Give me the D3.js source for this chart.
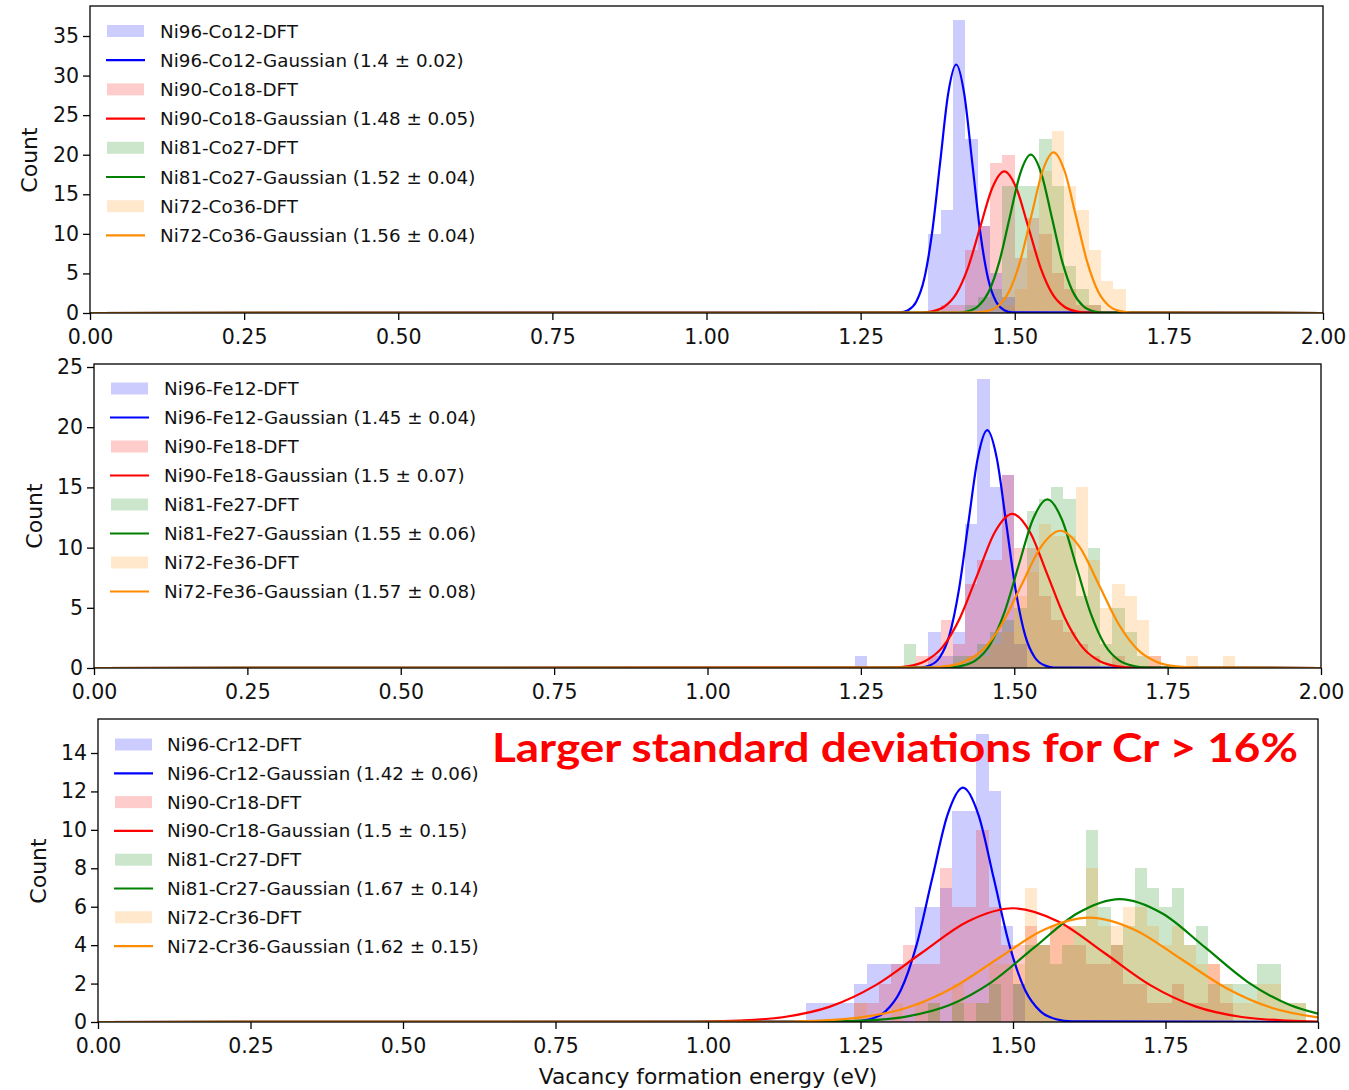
<!DOCTYPE html>
<html><head><meta charset="utf-8">
<script src="https://cdn.jsdelivr.net/npm/d3@7"></script>
<style>
body{margin:0;background:#fff}
svg{display:block}
</style>
</head><body>
<svg id="chart" width="1349" height="1090"></svg>
<script>
// ---------------- DATA ----------------
const binWidth = 0.02;
const xTicks = [0, 0.25, 0.5, 0.75, 1.0, 1.25, 1.5, 1.75, 2.0];
const seriesColors = ['#0000ff', '#ff0000', '#008000', '#ff8c00'];

// Panel 1: Co
const coNames = ['Ni96-Co12', 'Ni90-Co18', 'Ni81-Co27', 'Ni72-Co36'];
const coFitLabels = ['1.4 ± 0.02', '1.48 ± 0.05', '1.52 ± 0.04', '1.56 ± 0.04'];
const coYTicks = [0, 5, 10, 15, 20, 25, 30, 35];
const coBinStart = 1.34;
const coBlue   = [0,10,13,37,22,11,5,2,0,0,0,0,0,0,0,0,0,0];
const coRed    = [0,0,1,1,8,11,19,20,7,12,10,5,3,1,1,0,0,0];
const coGreen  = [0,0,0,0,1,2,3,16,16,16,22,16,6,3,1,0,0,0];
const coOrange = [0,0,0,0,0,0,0,1,3,8,18,23,16,13,8,4,3,0];
const coBlueFit = [[0,0],[1.314,0.07],[1.327,0.35],[1.340,1.38],[1.353,4.25],[1.366,10.2],[1.379,19.04],[1.392,27.71],[1.405,31.4],[1.418,27.71],[1.431,19.04],[1.444,10.2],[1.457,4.25],[1.470,1.38],[1.483,0.35],[1.496,0.07],[2,0]];
const coRedFit = [[0,0],[1.3465,0.04],[1.366,0.2],[1.3855,0.79],[1.405,2.42],[1.4245,5.81],[1.444,10.86],[1.4635,15.8],[1.483,17.9],[1.5025,15.8],[1.522,10.86],[1.5415,5.81],[1.561,2.42],[1.5805,0.79],[1.6,0.2],[1.6195,0.04],[2,0]];
const coGreenFit = [[0,0],[1.407,0.04],[1.424,0.22],[1.441,0.88],[1.458,2.71],[1.475,6.49],[1.492,12.13],[1.509,17.65],[1.526,20.0],[1.543,17.65],[1.56,12.13],[1.577,6.49],[1.594,2.71],[1.611,0.88],[1.628,0.22],[1.645,0.04],[2,0]];
const coOrangeFit = [[0,0],[1.437,0.04],[1.455,0.23],[1.473,0.89],[1.491,2.75],[1.509,6.59],[1.527,12.31],[1.545,17.91],[1.563,20.3],[1.581,17.91],[1.599,12.31],[1.617,6.59],[1.635,2.75],[1.653,0.89],[1.671,0.23],[1.689,0.04],[2,0]];

// Panel 2: Fe
const feNames = ['Ni96-Fe12', 'Ni90-Fe18', 'Ni81-Fe27', 'Ni72-Fe36'];
const feFitLabels = ['1.45 ± 0.04', '1.5 ± 0.07', '1.55 ± 0.06', '1.57 ± 0.08'];
const feYTicks = [0, 5, 10, 15, 20, 25];
const feBinStart = 1.24;
const feBlue   = [1,0,0,0,0,0,3,1,3,12,24,15,16,2,0,0,0,0,0,0,0,0,0,0,0,0,0,0,0,0,0];
const feRed    = [0,0,0,0,0,1,1,4,2,7,9,9,16,10,10,6,4,3,2,1,0,1,0,0,1,0,0,0,0,0,0];
const feGreen  = [0,0,0,0,2,0,0,0,1,1,2,3,4,5,13,14,15,14,6,10,2,5,3,1,0,0,0,0,0,0,0];
const feOrange = [0,0,0,0,0,0,0,0,0,1,1,2,3,6,8,12,11,11,15,9,5,7,6,4,1,0,0,1,0,0,1];
const feBlueFit = [[0,0],[1.3475,0.04],[1.363,0.22],[1.3785,0.87],[1.394,2.67],[1.4095,6.41],[1.425,11.98],[1.4405,17.43],[1.456,19.75],[1.4715,17.43],[1.487,11.98],[1.5025,6.41],[1.518,2.67],[1.5335,0.87],[1.549,0.22],[1.5645,0.04],[2,0]];
const feRedFit = [[0,0],[1.2975,0.03],[1.326,0.14],[1.3545,0.56],[1.383,1.73],[1.4115,4.16],[1.44,7.76],[1.4685,11.3],[1.497,12.8],[1.5255,11.3],[1.554,7.76],[1.5825,4.16],[1.611,1.73],[1.6395,0.56],[1.668,0.14],[1.6965,0.03],[2,0]];
const feGreenFit = [[0,0],[1.3895,0.03],[1.413,0.16],[1.4365,0.61],[1.46,1.89],[1.4835,4.55],[1.507,8.49],[1.5305,12.36],[1.554,14.0],[1.5775,12.36],[1.601,8.49],[1.6245,4.55],[1.648,1.89],[1.6715,0.61],[1.695,0.16],[1.7185,0.03],[2,0]];
const feOrangeFit = [[0,0],[1.3545,0.03],[1.386,0.13],[1.4175,0.5],[1.449,1.54],[1.4805,3.7],[1.512,6.91],[1.5435,10.06],[1.575,11.4],[1.6065,10.06],[1.638,6.91],[1.6695,3.7],[1.701,1.54],[1.7325,0.5],[1.764,0.13],[1.7955,0.03],[2,0]];

// Panel 3: Cr
const crNames = ['Ni96-Cr12', 'Ni90-Cr18', 'Ni81-Cr27', 'Ni72-Cr36'];
const crFitLabels = ['1.42 ± 0.06', '1.5 ± 0.15', '1.67 ± 0.14', '1.62 ± 0.15'];
const crYTicks = [0, 2, 4, 6, 8, 10, 12, 14];
const crBinStart = 1.16;
const crBlue   = [1,1,1,1,2,3,3,3,3,6,6,7,11,11,15,12,5,2,0,0,0,0,0,0,0,0,0,0,0,0,0,0,0,0,0,0,0,0,0,0,0];
const crRed    = [0,0,0,0,1,1,2,3,4,3,3,8,6,6,10,6,4,4,5,4,5,5,4,3,3,4,2,2,1,1,2,1,1,3,1,0,0,0,0,0,0];
const crGreen  = [0,0,0,0,0,0,0,0,0,0,1,0,1,0,1,2,0,2,4,4,3,4,5,10,6,4,5,8,7,6,7,4,5,2,2,2,2,3,3,1,1];
const crOrange = [0,0,0,0,1,0,0,1,0,1,1,0,2,1,1,3,3,3,7,4,5,5,5,8,5,5,6,6,5,4,5,4,3,3,2,1,1,2,2,1,1];
const crBlueFit = [[0,0],[1.2395,0.03],[1.265,0.14],[1.2905,0.54],[1.316,1.65],[1.3415,3.96],[1.367,7.4],[1.3925,10.77],[1.418,12.2],[1.4435,10.77],[1.469,7.4],[1.4945,3.96],[1.52,1.65],[1.5455,0.54],[1.571,0.14],[1.5965,0.03],[2,0]];
const crRedFit = [[0,0],[0.975,0.01],[1.05,0.07],[1.125,0.26],[1.2,0.8],[1.275,1.92],[1.35,3.59],[1.425,5.22],[1.5,5.92],[1.575,5.22],[1.65,3.59],[1.725,1.92],[1.8,0.8],[1.875,0.26],[1.95,0.07],[2.0,0.02]];
const crGreenFit = [[0,0],[1.185,0.01],[1.255,0.07],[1.325,0.28],[1.395,0.87],[1.465,2.08],[1.535,3.88],[1.605,5.65],[1.675,6.4],[1.745,5.65],[1.815,3.88],[1.885,2.08],[1.955,0.87],[2.0,0.43]];
const crOrangeFit = [[0,0],[1.1,0.01],[1.175,0.06],[1.25,0.24],[1.325,0.73],[1.4,1.76],[1.475,3.29],[1.55,4.79],[1.625,5.43],[1.7,4.79],[1.775,3.29],[1.85,1.76],[1.925,0.73],[2.0,0.24]];

const annotationText = 'Larger standard deviations for Cr > 16%';
const xAxisLabel = 'Vacancy formation energy (eV)';
const yAxisLabel = 'Count';

// ---------------- LAYOUT ----------------
const panels = [
  { names: coNames, fits: coFitLabels, yTicks: coYTicks, binStart: coBinStart,
    counts: [coBlue, coRed, coGreen, coOrange], curves: [coBlueFit, coRedFit, coGreenFit, coOrangeFit],
    box: {l: 90, r: 1323, t: 6, b: 313}, yMax: 38.79,
    legend: {px: 107, tx: 160, y0: 31, dy: 29.2}, ylab: {x: 37, y: 160} },
  { names: feNames, fits: feFitLabels, yTicks: feYTicks, binStart: feBinStart,
    counts: [feBlue, feRed, feGreen, feOrange], curves: [feBlueFit, feRedFit, feGreenFit, feOrangeFit],
    box: {l: 94, r: 1321, t: 364, b: 668}, yMax: 25.25,
    legend: {px: 111, tx: 164, y0: 388.5, dy: 29.0}, ylab: {x: 42, y: 516} },
  { names: crNames, fits: crFitLabels, yTicks: crYTicks, binStart: crBinStart,
    counts: [crBlue, crRed, crGreen, crOrange], curves: [crBlueFit, crRedFit, crGreenFit, crOrangeFit],
    box: {l: 98, r: 1318, t: 719, b: 1022}, yMax: 15.77,
    legend: {px: 115, tx: 167, y0: 744.5, dy: 28.8}, ylab: {x: 46, y: 871} }
];

const FONT = '"DejaVu Sans", sans-serif';
const svg = d3.select('#chart');
svg.append('rect').attr('width', 1349).attr('height', 1090).attr('fill', '#fff');

panels.forEach((p, pi) => {
  const g = svg.append('g');
  const b = p.box;
  const x = d3.scaleLinear().domain([0, 2]).range([b.l, b.r]);
  const y = d3.scaleLinear().domain([0, p.yMax]).range([b.b, b.t]);

  g.append('rect').attr('x', b.l).attr('y', b.t).attr('width', b.r - b.l).attr('height', b.b - b.t).attr('fill', '#fff');

  const clipId = 'clip' + pi;
  g.append('clipPath').attr('id', clipId).append('rect')
    .attr('x', b.l).attr('y', b.t).attr('width', b.r - b.l).attr('height', b.b - b.t);
  const plot = g.append('g').attr('clip-path', `url(#${clipId})`);

  const line = d3.line().x(d => x(d[0])).y(d => y(d[1])).curve(d3.curveMonotoneX);

  // histograms first
  p.counts.forEach((counts, si) => {
    const bars = counts.map((c, i) => ({c, i})).filter(d => d.c > 0);
    plot.append('g').selectAll('rect').data(bars).join('rect')
      .attr('x', d => x(p.binStart + d.i * binWidth))
      .attr('width', d => x(p.binStart + (d.i + 1) * binWidth) - x(p.binStart + d.i * binWidth))
      .attr('y', d => y(d.c))
      .attr('height', d => y(0) - y(d.c))
      .attr('fill', seriesColors[si]).attr('fill-opacity', 0.2)
      .attr('shape-rendering', 'crispEdges');
  });
  // fitted curves on top
  p.curves.forEach((curve, si) => {
    plot.append('path').datum(curve).attr('d', line)
      .attr('fill', 'none').attr('stroke', seriesColors[si]).attr('stroke-width', 2.2)
      .attr('stroke-linejoin', 'round');
  });

  // axes
  const xAxis = d3.axisBottom(x).tickValues(xTicks).tickFormat(d3.format('.2f'))
    .tickSize(7).tickPadding(9).tickSizeOuter(0);
  const gx = g.append('g').attr('transform', `translate(0,${b.b})`).call(xAxis);
  const yAxis = d3.axisLeft(y).tickValues(p.yTicks).tickFormat(d3.format('d'))
    .tickSize(7).tickPadding(4).tickSizeOuter(0);
  const gy = g.append('g').attr('transform', `translate(${b.l},0)`).call(yAxis);
  [gx, gy].forEach(ax => {
    ax.select('.domain').remove();
    ax.selectAll('line').attr('stroke', '#000').attr('stroke-width', 1.3);
    ax.selectAll('text').attr('font-family', FONT).attr('font-size', 20.5).attr('fill', '#111');
  });

  // frame
  g.append('rect').attr('x', b.l).attr('y', b.t).attr('width', b.r - b.l).attr('height', b.b - b.t)
    .attr('fill', 'none').attr('stroke', '#000').attr('stroke-width', 1.3);

  // y label
  g.append('text').attr('transform', `translate(${p.ylab.x},${p.ylab.y}) rotate(-90)`)
    .attr('text-anchor', 'middle').attr('font-family', FONT).attr('font-size', 22).attr('fill', '#111')
    .text(yAxisLabel);

  // legend
  const L = p.legend;
  const leg = g.append('g');
  p.names.forEach((nm, si) => {
    const cy1 = L.y0 + (2 * si) * L.dy;
    const cy2 = L.y0 + (2 * si + 1) * L.dy;
    leg.append('rect').attr('x', L.px).attr('y', cy1 - 6).attr('width', 37).attr('height', 12)
      .attr('fill', seriesColors[si]).attr('fill-opacity', 0.2);
    leg.append('text').attr('x', L.tx).attr('y', cy1 + 6.5).attr('font-family', FONT).attr('font-size', 18.3)
      .attr('fill', '#111').text(nm + '-DFT');
    leg.append('line').attr('x1', L.px - 1).attr('x2', L.px + 38).attr('y1', cy2).attr('y2', cy2)
      .attr('stroke', seriesColors[si]).attr('stroke-width', 2.2);
    leg.append('text').attr('x', L.tx).attr('y', cy2 + 6.5).attr('font-family', FONT).attr('font-size', 18.3)
      .attr('fill', '#111').text(nm + '-Gaussian (' + p.fits[si] + ')');
  });

  if (pi === 2) {
    g.append('text').attr('x', (b.l + b.r) / 2).attr('y', 1084).attr('text-anchor', 'middle')
      .attr('font-family', FONT).attr('font-size', 21.8).attr('fill', '#111').text(xAxisLabel);
    g.append('text').attr('x', 492).attr('y', 762)
      .attr('font-family', 'Lato, "Open Sans", sans-serif').attr('font-weight', 700).attr('font-size', 41)
      .attr('fill', '#ff0000').attr('textLength', 806).attr('lengthAdjust', 'spacingAndGlyphs')
      .text(annotationText);
  }
});
</script>
</body></html>
